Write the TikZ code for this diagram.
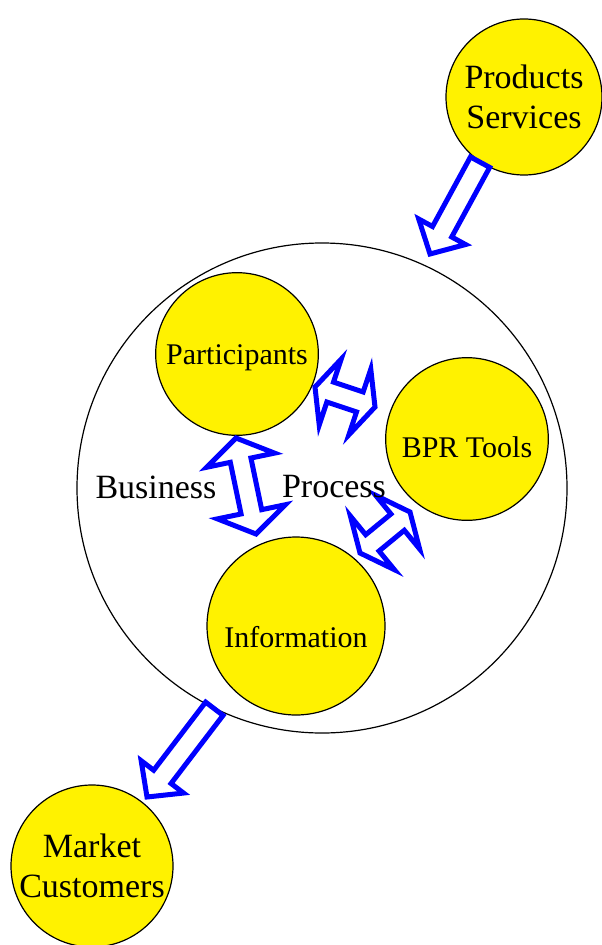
\documentclass[tikz,border=0pt]{standalone}
\usepackage{fontspec}
\setmainfont{Liberation Serif}
\usetikzlibrary{calc}

% hollow block arrow, tail #1 to tip #2
\newcommand{\onearrow}[2]{%
  \path ($(#2)!19pt!(#1)$) coordinate (hb);
  \draw[blockarrow] ($(#1)!8.2pt!90:(#2)$) -- ($(hb)!8.2pt!-90:(#1)$) -- ($(hb)!20pt!-90:(#1)$) -- (#2)
    -- ($(hb)!20pt!90:(#1)$) -- ($(hb)!8.2pt!90:(#1)$) -- ($(#1)!8.2pt!-90:(#2)$) -- cycle;
}
% hollow double block arrow between #2 and #3, head length #1
\newcommand{\twoarrow}[3][12pt]{%
  \path ($(#2)!#1!(#3)$) coordinate (ha) ($(#3)!#1!(#2)$) coordinate (hb);
  \draw[blockarrow] (#2) -- ($(ha)!26pt!90:(#3)$) -- ($(ha)!7.9pt!90:(#3)$) -- ($(hb)!7.9pt!-90:(#2)$)
    -- ($(hb)!26pt!-90:(#2)$) -- (#3) -- ($(hb)!26pt!90:(#2)$) -- ($(hb)!7.9pt!90:(#2)$)
    -- ($(ha)!7.9pt!-90:(#3)$) -- ($(ha)!26pt!-90:(#3)$) -- cycle;
}

\begin{document}
\begin{tikzpicture}[x=0.75pt, y=-0.75pt,
    bubble/.style={circle, draw, fill=yellow, line width=0.9pt, inner sep=0pt, align=center},
    bigtxt/.style={font=\fontsize{25.5}{30}\selectfont},
    smalltxt/.style={font=\fontsize{22.5}{27}\selectfont, text depth=0pt},
    blockarrow/.style={draw=blue, fill=white, line width=3.75pt}]
    \useasboundingbox (0,0) rectangle (602,945);

    % The business process
    \node[circle, draw, line width=0.9pt, minimum size=367.5pt] (bp) at (322,488) {};

    % Outside world
    \node[bubble, bigtxt, minimum size=117pt] (prod) at (524,97) {Products\\Services};
    \node[bubble, bigtxt, minimum size=121.5pt] (market) at (92,866) {Market\\Customers};

    % Parts of the process
    \node[bubble, smalltxt, text height=16pt, minimum size=122pt] (part) at (237,354) {Participants};
    \node[bubble, smalltxt, text height=27.8pt, minimum size=122pt] (tools) at (467,439) {BPR Tools};
    \node[bubble, smalltxt, text height=31.5pt, minimum size=133.5pt] (info) at (296,626) {Information};

    % Arrow ends
    \coordinate (inTip) at (430,254);
    \coordinate (outTip) at (147,797);
    \coordinate (ptA) at (315,387);
    \coordinate (ptB) at (375,407);
    \coordinate (piA) at (236,438);
    \coordinate (piB) at (256,534);
    \coordinate (tiA) at (410,512);
    \coordinate (tiB) at (360,553);

    % In and out
    \onearrow{prod.236}{inTip}
    \onearrow{bp.244}{outTip}

    % Inside
    \twoarrow{ptA}{ptB}
    \twoarrow[17pt]{piA}{piB}
    \twoarrow{tiA}{tiB}

    \node[bigtxt] (business) at (156,487) {Business};
    \node[bigtxt] (process) at (334,487) {Process};
\end{tikzpicture}
\end{document}
